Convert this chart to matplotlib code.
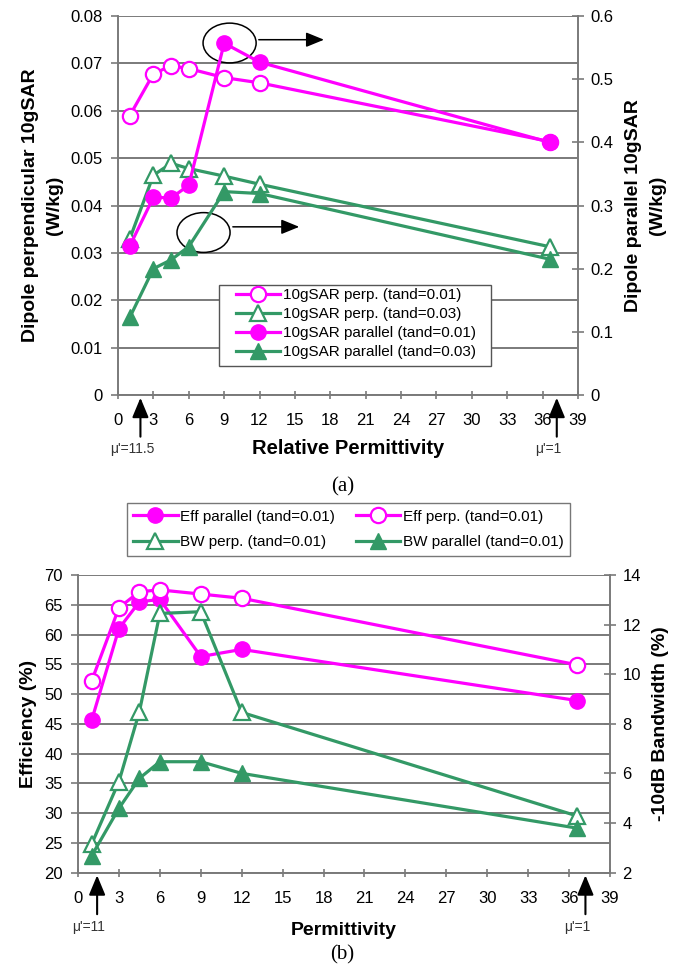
import numpy as np
import matplotlib
matplotlib.use("Agg")
import matplotlib.pyplot as plt
from matplotlib.patches import Ellipse, Rectangle

plt.rcParams['font.family'] = ['Liberation Sans', 'DejaVu Sans']

# Permittivity values shared by all series
eps = [1, 3, 4.5, 6, 9, 12, 36.6]

# (a) 10g SAR
sar_perp_001 = [0.059, 0.0678, 0.0695, 0.0689, 0.0670, 0.0659, 0.0535]   # left axis
sar_perp_003 = [0.0330, 0.0464, 0.0489, 0.0478, 0.0462, 0.0445, 0.0313]  # left axis
sar_par_001 = [0.236, 0.313, 0.312, 0.332, 0.557, 0.527, 0.400]          # right axis
sar_par_003 = [0.123, 0.200, 0.214, 0.235, 0.322, 0.319, 0.215]          # right axis

# (b) efficiency and bandwidth
eff_par = [45.6, 61.0, 65.5, 65.9, 56.3, 57.5, 48.9]    # left axis
eff_perp = [52.2, 64.5, 67.2, 67.5, 66.8, 66.1, 54.9]   # left axis
bw_perp = [3.15, 5.67, 8.49, 12.45, 12.52, 8.46, 4.28]  # right axis
bw_par = [2.68, 4.59, 5.80, 6.47, 6.47, 6.00, 3.79]     # right axis

x_ticks = list(range(0, 40, 3))

MAG = '#ff00ff'
GRN = '#339966'
GRID = '#7a7a7a'
LW = 2.3
MS = 11
W, H = 685, 971


def style_axes(ax, ax2):
    for a in (ax, ax2):
        a.spines['top'].set_visible(False)
        for s in ('left', 'right', 'bottom'):
            a.spines[s].set_color(GRID)
            a.spines[s].set_linewidth(1.2)
    ax.tick_params(axis='x', direction='inout', length=6, width=1.2, color=GRID,
                   labelsize=12, pad=10)
    ax.tick_params(axis='y', direction='out', length=5, width=1.2, color=GRID,
                   labelsize=12, pad=6)
    ax2.tick_params(axis='y', direction='inout', length=8, width=1.2, color=GRID,
                    labelsize=12, pad=5)
    ax.yaxis.grid(True, color=GRID, linewidth=1.4)
    ax.set_axisbelow(True)
    ax.set_xlim(0, 39)
    ax.set_xticks(x_ticks)


def mu_arrow(ax, x, label, fs=10):
    ax.annotate('', xy=(x, ax.get_ylim()[0]), xytext=(0, -32),
                xycoords='data', textcoords='offset points',
                arrowprops=dict(arrowstyle='-|>,head_length=1.2,head_width=0.5',
                                color='black', lw=1.5), annotation_clip=False)
    ax.annotate(label, xy=(x, ax.get_ylim()[0]), xytext=(-6, -39),
                xycoords='data', textcoords='offset points',
                ha='center', va='center', fontsize=fs, color='#333333',
                annotation_clip=False)


fig = plt.figure(figsize=(6.85, 9.71), dpi=100)

# ---------------- (a) ----------------
ax = fig.add_axes([0.1723, 0.5932, 0.6715, 0.3903])
ax2 = ax.twinx()
ax.set_ylim(0, 0.08)
ax.set_yticks(np.arange(0, 0.081, 0.01))
ax.set_yticklabels(['0'] + ['%.2f' % v for v in np.arange(0.01, 0.081, 0.01)])
ax2.set_ylim(0, 0.6)
ax2.set_yticks(np.arange(0, 0.61, 0.1))
ax2.set_yticklabels(['0'] + ['%.1f' % v for v in np.arange(0.1, 0.61, 0.1)])
style_axes(ax, ax2)

h1, = ax.plot(eps, sar_perp_001, color=MAG, lw=LW, marker='o', ms=MS,
              mfc='white', mec=MAG, mew=1.6, label='10gSAR perp. (tand=0.01)')
h2, = ax.plot(eps, sar_perp_003, color=GRN, lw=LW, marker='^', ms=MS + 1,
              mfc='white', mec=GRN, mew=1.6, label='10gSAR perp. (tand=0.03)')
h3, = ax2.plot(eps, sar_par_001, color=MAG, lw=LW, marker='o', ms=MS,
               mfc=MAG, mec=MAG, label='10gSAR parallel (tand=0.01)')
h4, = ax2.plot(eps, sar_par_003, color=GRN, lw=LW, marker='^', ms=MS + 1,
               mfc=GRN, mec=GRN, label='10gSAR parallel (tand=0.03)')

# circled points pointing to right axis
ax.add_patch(Ellipse((9.46, 0.0743), 4.5, 0.0084, fill=False, ec='black', lw=1.1,
                     zorder=5))
ax.annotate('', xy=(17.7, 0.0750), xytext=(11.7, 0.0750),
            arrowprops=dict(arrowstyle='-|>,head_length=1.1,head_width=0.45',
                            color='black', lw=1.1))
ax.add_patch(Ellipse((7.25, 0.0343), 4.5, 0.0084, fill=False, ec='black', lw=1.1,
                     zorder=5))
ax.annotate('', xy=(15.6, 0.0355), xytext=(9.5, 0.0355),
            arrowprops=dict(arrowstyle='-|>,head_length=1.1,head_width=0.45',
                            color='black', lw=1.1))

# legend box (white, framed) with a frameless legend inside
ax2.add_patch(Rectangle((219 / W, 1 - 366 / H), 272 / W, 81 / H,
                        transform=fig.transFigure, fc='white', ec='#555555',
                        lw=1.0, zorder=4.5, clip_on=False))
leg = ax2.legend(handles=[h1, h2, h3, h4], loc='upper left',
                 bbox_to_anchor=(236 / W, 1 - 288 / H),
                 bbox_transform=fig.transFigure, fontsize=11, frameon=False,
                 handlelength=2.9, borderpad=0, labelspacing=0.33,
                 handletextpad=0.15, borderaxespad=0)
leg.set_zorder(6)

ax.set_ylabel('Dipole perpendicular 10gSAR\n(W/kg)', fontsize=14,
              fontweight='bold', labelpad=5, linespacing=1.55)
ax2.set_ylabel('Dipole parallel 10gSAR\n(W/kg)', fontsize=14,
               fontweight='bold', labelpad=8, linespacing=1.55)
ax.set_xlabel('Relative Permittivity', fontsize=14.5, fontweight='bold', labelpad=8)

mu_arrow(ax, 1.9, "\u03bc'=11.5")
mu_arrow(ax, 37.2, "\u03bc'=1")
fig.text(0.5, 1 - 487 / H, '(a)', ha='center', va='center', fontsize=15,
         family='Liberation Serif')

# ---------------- (b) ----------------
bx = fig.add_axes([0.1139, 0.1014, 0.7766, 0.3064])
bx2 = bx.twinx()
bx.set_ylim(20, 70)
bx.set_yticks(range(20, 71, 5))
bx2.set_ylim(2, 14)
bx2.set_yticks(range(2, 15, 2))
style_axes(bx, bx2)

g1, = bx.plot(eps, eff_par, color=MAG, lw=LW, marker='o', ms=MS,
              mfc=MAG, mec=MAG, label='Eff parallel (tand=0.01)')
g2, = bx.plot(eps, eff_perp, color=MAG, lw=LW, marker='o', ms=MS,
              mfc='white', mec=MAG, mew=1.6, label='Eff perp. (tand=0.01)')
g3, = bx2.plot(eps, bw_perp, color=GRN, lw=LW, marker='^', ms=MS + 1,
               mfc='white', mec=GRN, mew=1.6, label='BW perp. (tand=0.01)')
g4, = bx2.plot(eps, bw_par, color=GRN, lw=LW, marker='^', ms=MS + 1,
               mfc=GRN, mec=GRN, label='BW parallel (tand=0.01)')

leg2 = fig.legend(handles=[g1, g3, g2, g4], ncol=2, loc='upper left',
                  bbox_to_anchor=(0.185, 1 - 503 / H), fontsize=11, frameon=True,
                  fancybox=False, edgecolor='#555555', handlelength=2.9,
                  borderpad=0.43, labelspacing=0.78, handletextpad=0.15,
                  columnspacing=1.4, borderaxespad=0)
leg2.get_frame().set_linewidth(1.0)

bx.set_ylabel('Efficiency (%)', fontsize=14, fontweight='bold', labelpad=5)
bx2.set_ylabel('-10dB Bandwidth (%)', fontsize=14, fontweight='bold', labelpad=8)
bx.set_xlabel('Permittivity', fontsize=14, fontweight='bold', labelpad=12)

mu_arrow(bx, 1.4, "\u03bc'=11")
mu_arrow(bx, 37.2, "\u03bc'=1")
fig.text(0.5, 1 - 955 / H, '(b)', ha='center', va='center', fontsize=15,
         family='Liberation Serif')

fig.savefig('out.png', dpi=100)
